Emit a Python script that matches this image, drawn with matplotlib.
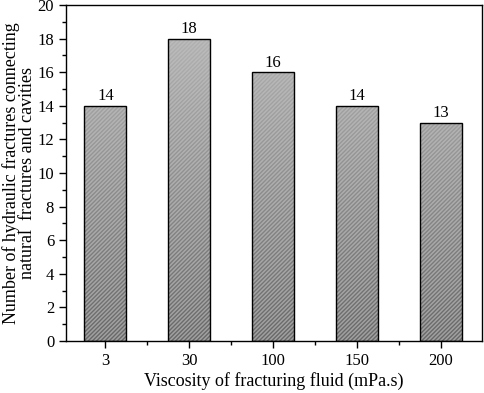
import numpy as np
import matplotlib
matplotlib.use("Agg")
import matplotlib.pyplot as plt
from matplotlib.ticker import MultipleLocator, FixedLocator

plt.rcParams["font.family"] = ["Liberation Serif", "DejaVu Serif"]
plt.rcParams["hatch.color"] = "#686868"
plt.rcParams["hatch.linewidth"] = 1.0

# data
viscosity = ["3", "30", "100", "150", "200"]
counts = [14, 18, 16, 14, 13]

fig = plt.figure(figsize=(4.84, 3.93), dpi=100)
ax = fig.add_axes([66 / 484, 1 - 341 / 393, 416 / 484, 336 / 393])

x = np.arange(len(viscosity))
ax.set_xlim(-0.47, 4.49)
ax.set_ylim(0, 20)

# hatched base bars
bars = ax.bar(x, counts, width=0.5, color="#a0a0a0", edgecolor="#686868",
              linewidth=0, hatch="////////", zorder=1)

# light gray overlay that fades the hatch toward the top
overlay = np.zeros((256, 1, 4))
overlay[..., :3] = 0.76
overlay[..., 3] = np.linspace(0.0, 0.92, 256).reshape(-1, 1)
for b in bars:
    im = ax.imshow(overlay, aspect="auto", extent=[-0.47, 4.49, 0, 20],
                   origin="lower", zorder=2, interpolation="bilinear")
    im.set_clip_path(b)

ax.bar(x, counts, width=0.5, color="none", edgecolor="black",
       linewidth=1.0, zorder=3)

for xi, c in zip(x, counts):
    ax.text(xi, c + 0.1, str(c), ha="center", va="bottom", fontsize=12)

ax.set_xticks(x)
ax.set_xticklabels(viscosity)
ax.xaxis.set_minor_locator(FixedLocator(x[:-1] + 0.5))
ax.yaxis.set_major_locator(MultipleLocator(2))
ax.yaxis.set_minor_locator(MultipleLocator(1))
ax.tick_params(which="both", direction="out", top=False, right=False, labelsize=12)
ax.tick_params(which="major", length=5, width=1)
ax.tick_params(which="minor", length=3, width=1)
for s in ax.spines.values():
    s.set_linewidth(1.0)

ax.set_xlabel("Viscosity of fracturing fluid (mPa.s)", fontsize=13, labelpad=2)
ax.set_ylabel("Number of hydraulic fractures connecting\nnatural  fractures and cavities",
              fontsize=13, linespacing=0.95, labelpad=1)

fig.savefig("out.png", dpi=100)
